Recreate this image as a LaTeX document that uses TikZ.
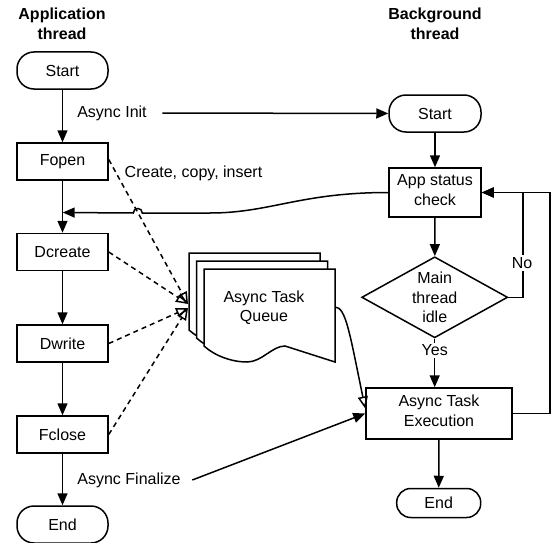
\documentclass[tikz,border=0pt]{standalone}
\usepackage{fontspec}
\setmainfont{Liberation Sans}
\usetikzlibrary{arrows.meta,shapes.geometric}
\begin{document}
\begin{tikzpicture}[x=1pt,y=-1pt,
 font=\fontsize{16}{19.5}\selectfont,
 line width=1.5pt,
 box/.style={draw, rectangle, minimum width=91pt, minimum height=37pt, inner sep=0pt, align=center},
 term/.style={box, rounded corners=17pt},
 lbl/.style={inner sep=1pt, align=center},
 arr/.style={-{Triangle[length=12pt,width=10pt]}},
 oarr/.style={-{Triangle[open,length=12pt,width=10pt]}},
 dsh/.style={dash pattern=on 5pt off 4pt, oarr},
 ttl/.style={align=center, font=\fontsize{16}{19.5}\selectfont\bfseries}
]
\fill[white] (0,0) rectangle (554,543);
\useasboundingbox (0,0) rectangle (554,543);

% titles
\node[ttl] (t1) at (62,24) {Application\\thread};
\node[ttl] (t2) at (435,24) {Background\\thread};

% application thread
\node[term] (sL) at (62.5,70.5) {Start};
\node[box] (fopen) at (62.5,161.5) {Fopen};
\node[box] (dcreate) at (62.5,252) {Dcreate};
\node[box] (dwrite) at (62.5,343.5) {Dwrite};
\node[box] (fclose) at (62.5,434.5) {Fclose};
\node[term] (eL) at (62.5,524.5) {End};

% background thread
\node[term, minimum width=92pt] (sR) at (435,113.5) {Start};
\node[box, minimum width=92pt, minimum height=49pt] (app) at (435,192.5) {};
\node[lbl] (apptext) at (435,190) {App status\\check};
\node[draw, diamond, minimum width=146pt, minimum height=81pt, inner sep=0pt] (dia) at (434.7,297.3) {};
\node[lbl] (diatext) at (dia.center) {Main\\thread\\idle};
\node[box, minimum width=146pt, minimum height=51pt] (exec) at (439,413.5) {};
\node[lbl] (exectext) at (439,411) {Async Task\\Execution};
\node[term, minimum width=84pt, minimum height=29pt, rounded corners=14pt] (eR) at (438.7,503) {End};

% queue documents
\foreach \s in {2,1,0}{
 \begin{scope}[shift={(-7.5*\s,-8*\s)}]
  \draw[fill=white] (204,269) -- (335,269) -- (335,362) -- (285,346)
   .. controls (272,346) and (262,362) .. (247,362)
   .. controls (232,362) and (215,356) .. (204,346) -- cycle;
 \end{scope}
}
\node[lbl] (queue) at (264,307.5) {Async Task\\Queue};

% labels
\node[lbl, inner xsep=15pt] (ainit) at (112,113) {Async Init};
\node[lbl] (cci) at (193.5,173) {Create, copy, insert};
\node[lbl, inner xsep=11pt] (afin) at (129,480) {Async Finalize};

% left column arrows
\draw[arr] (sL) -- (fopen);
\draw[arr] (fopen) -- (dcreate);
\draw[arr] (dcreate) -- (dwrite);
\draw[arr] (dwrite) -- (fclose);
\draw[arr] (fclose) -- (eL);

% right column arrows
\draw[arr] (ainit) -- (sR);
\draw[arr] (sR) -- (app);
\draw[arr] (app) -- (dia);
\draw[arr] (dia.south) -- (dia.south |- exec.north)
  node[pos=0.245, fill=white, inner sep=2pt] (yes) {Yes};
\draw[arr] (exec) -- (eR);
\draw[arr] (dia.east) -- ++(14.3,0) |- (app.east);
\node[fill=white, inner sep=2pt] (no) at (522,263) {No};
\draw[arr] (exec.east) -- ++(37,0) |- (app.east);

% feedback curve to application thread
\coordinate (j) at (62.7,212.5);
\draw[arr] (app.west) .. controls (300,192.5) and (270,213) .. (210,213)
  -- (142.3,213) .. controls (142.3,207) and (133.3,207) .. (133.3,213) -- (j);

% dashed inserts
\coordinate (qa) at (188,304);
\coordinate (qb) at (188,308);
\draw[dsh] ([yshift=2pt]fopen.east) -- (qa);
\draw[dsh] (dcreate.east) -- (qa);
\draw[dsh] (dwrite.east) -- (qb);
\draw[dsh] (fclose.east) -- (qb);

% queue to execution
\coordinate (qo) at (335,307);
\draw[oarr] (qo) .. controls (346,307) and (350,335) .. ([yshift=5pt]exec.west);

% finalize
\draw[arr] (afin.east) -- (exec.west);
\end{tikzpicture}
\end{document}
